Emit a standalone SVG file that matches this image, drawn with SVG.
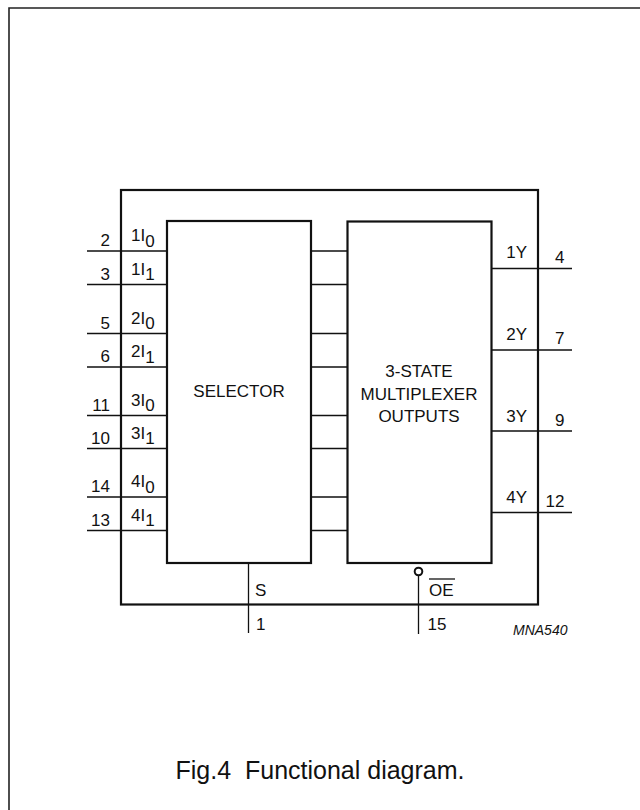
<svg xmlns="http://www.w3.org/2000/svg" width="640" height="810" viewBox="0 0 640 810">
<style>
  text { font-family: "Liberation Sans", Arial, sans-serif; font-size: 17px; fill: #111; }
  .thick { fill: none; stroke: #111; stroke-width: 2.2; }
  .thin { fill: none; stroke: #111; stroke-width: 1.3; }
  .r { text-anchor: end; }
  .m { text-anchor: middle; }
</style>
<rect width="640" height="810" fill="#fff"/>
<path d="M9,812 V8 H642" fill="none" stroke="#222" stroke-width="1.6"/>

<g id="package">
  <rect class="thick" x="121" y="190" width="417" height="414.5"/>
</g>

<g id="selector">
  <rect class="thick" x="167" y="221" width="144" height="342"/>
  <text class="m" x="239" y="397">SELECTOR</text>
</g>

<g id="mux">
  <rect class="thick" x="347.5" y="221.5" width="144" height="341.5"/>
  <text class="m" x="419" y="377">3-STATE</text>
  <text class="m" x="419" y="400">MULTIPLEXER</text>
  <text class="m" x="419" y="422">OUTPUTS</text>
</g>

<g id="connectors">
  <!-- inputs -->
  <path class="thin" d="M87,251 H167 M87,284.5 H167 M87,333.5 H167 M87,367 H167 M87,415.5 H167 M87,448.5 H167 M87,497 H167 M87,530.5 H167"/>
  <!-- selector to mux -->
  <path class="thin" d="M311,251 H347.5 M311,284.5 H347.5 M311,333.5 H347.5 M311,367 H347.5 M311,415.5 H347.5 M311,448.5 H347.5 M311,497 H347.5 M311,530.5 H347.5"/>
  <!-- outputs -->
  <path class="thin" d="M491.5,268.5 H572 M491.5,350 H572 M491.5,431 H572 M491.5,512.5 H572"/>
  <!-- S -->
  <path class="thin" d="M248.5,563 V633"/>
  <!-- OE -->
  <circle cx="418.5" cy="571.5" r="3.8" fill="#fff" stroke="#111" stroke-width="2"/>
  <path class="thin" d="M418.5,575.3 V634"/>
</g>

<g id="input-labels">
  <text class="r" x="110" y="246">2</text>
  <text class="r" x="110" y="279.5">3</text>
  <text class="r" x="110" y="328.5">5</text>
  <text class="r" x="110" y="362">6</text>
  <text class="r" x="110" y="410.5">11</text>
  <text class="r" x="110" y="443.5">10</text>
  <text class="r" x="110" y="492">14</text>
  <text class="r" x="110" y="525.5">13</text>

  <text x="131" y="241">1I<tspan dy="5.5">0</tspan></text>
  <text x="131" y="274.5">1I<tspan dy="5.5">1</tspan></text>
  <text x="131" y="323.5">2I<tspan dy="5.5">0</tspan></text>
  <text x="131" y="357">2I<tspan dy="5.5">1</tspan></text>
  <text x="131" y="405.5">3I<tspan dy="5.5">0</tspan></text>
  <text x="131" y="438.5">3I<tspan dy="5.5">1</tspan></text>
  <text x="131" y="487">4I<tspan dy="5.5">0</tspan></text>
  <text x="131" y="520.5">4I<tspan dy="5.5">1</tspan></text>
</g>

<g id="output-labels">
  <text class="r" x="527" y="258">1Y</text>
  <text class="r" x="527" y="339.5">2Y</text>
  <text class="r" x="527" y="421.5">3Y</text>
  <text class="r" x="527" y="502.5">4Y</text>
  <text class="r" x="564.5" y="262.5">4</text>
  <text class="r" x="564.5" y="344">7</text>
  <text class="r" x="564.5" y="425.5">9</text>
  <text class="r" x="564.5" y="506.5">12</text>
</g>

<g id="control-labels">
  <text x="255" y="595.5">S</text>
  <text x="256" y="629.5">1</text>
  <text x="429" y="595.5">OE</text>
  <path d="M429,579 H455" stroke="#111" stroke-width="1.3"/>
  <text x="427.5" y="629.5">15</text>
  <text x="513" y="635" style="font-size:14px;font-style:italic">MNA540</text>
</g>

<text class="m" x="320" y="779" style="font-size:25px;white-space:pre" xml:space="preserve">Fig.4  Functional diagram.</text>
</svg>
